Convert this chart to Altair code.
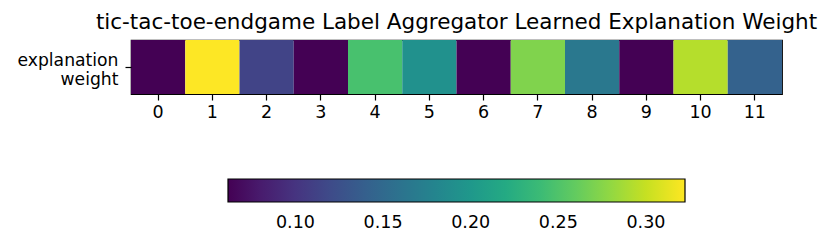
import altair as alt
import pandas as pd

title_text = "tic-tac-toe-endgame Label Aggregator Learned Explanation Weight"
columns = list(range(12))
weights = [0.0615, 0.3223, 0.1137, 0.0615, 0.2467, 0.1920,
           0.0615, 0.2727, 0.1658, 0.0615, 0.2936, 0.1423]
row_label = "explanation weight"
colorbar_ticks = [0.10, 0.15, 0.20, 0.25, 0.30]

df = pd.DataFrame({"col": columns, "w": weights, "row": [row_label] * len(columns)})

FONT = "DejaVu Sans"
FS = 17.5

chart = alt.Chart(df).mark_rect().encode(
    x=alt.X("col:O", title=None, scale=alt.Scale(paddingInner=0, paddingOuter=0),
            axis=alt.Axis(labelAngle=0, labelFontSize=FS, labelFont=FONT, labelColor="black",
                          tickColor="black", tickSize=6, tickWidth=1.2, labelPadding=3, domain=False)),
    y=alt.Y("row:N", title=None, scale=alt.Scale(paddingInner=0, paddingOuter=0),
            axis=alt.Axis(labelExpr="['explanation', 'weight']", labelFontSize=17.2, labelFont=FONT,
                          labelColor="black", labelLineHeight=19, tickColor="black", tickSize=6,
                          tickWidth=1.2, labelPadding=7, labelOffset=-6, domain=False)),
    color=alt.Color("w:Q",
                    scale=alt.Scale(scheme="viridis", domain=[min(weights), max(weights)]),
                    legend=alt.Legend(orient="none", legendX=97, legendY=139, direction="horizontal",
                                      title=None, values=colorbar_ticks, format=".2f",
                                      gradientLength=457, gradientThickness=23,
                                      gradientStrokeColor="black", gradientStrokeWidth=1.2,
                                      labelFontSize=FS, labelFont=FONT, labelColor="black",
                                      labelOffset=12)),
).properties(
    width=651, height=54,
    title=alt.TitleParams(title_text, fontSize=21.5, font=FONT, fontWeight="normal",
                          color="black", offset=7, anchor="middle"),
    autosize=alt.AutoSizeParams(type="none"),
    padding={"left": 123, "top": 32, "right": 40, "bottom": 143},
).configure_view(stroke="black", strokeWidth=1.2)

chart.save("out.html", embed_options={"renderer": "svg", "actions": False})
